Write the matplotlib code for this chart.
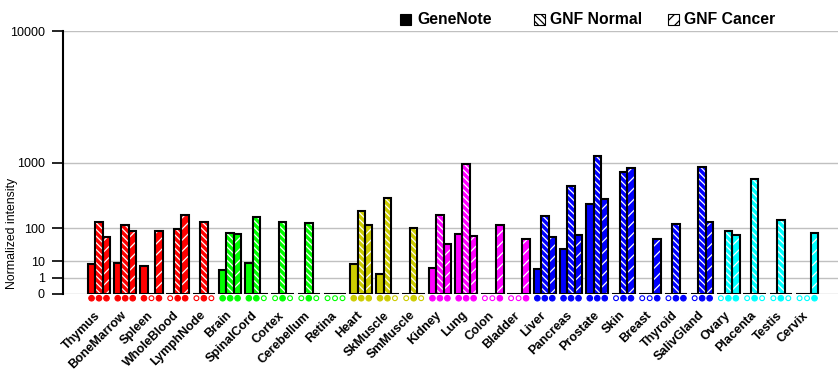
import numpy as np
import matplotlib
matplotlib.use("Agg")
import matplotlib.pyplot as plt
from matplotlib.patches import Rectangle
from matplotlib.transforms import blended_transform_factory, ScaledTranslation

plt.rcParams['font.family'] = ['Liberation Sans', 'DejaVu Sans']
plt.rcParams['hatch.linewidth'] = 0.9

# tissues and their colour groups
tissues = ['Thymus', 'BoneMarrow', 'Spleen', 'WholeBlood', 'LymphNode',
           'Brain', 'SpinalCord', 'Cortex', 'Cerebellum', 'Retina',
           'Heart', 'SkMuscle', 'SmMuscle',
           'Kidney', 'Lung', 'Colon', 'Bladder',
           'Liver', 'Pancreas', 'Prostate', 'Skin', 'Breast', 'Thyroid', 'SalivGland',
           'Ovary', 'Placenta', 'Testis', 'Cervix']
group_colors = ['#ff0000'] * 5 + ['#00ff00'] * 5 + ['#cccc00'] * 3 + \
               ['#ff00ff'] * 4 + ['#0000ff'] * 7 + ['#00ffff'] * 4

# values
genenote = [7.4, 8.3, 5.9, 0, 0, 3.7, 8.3, 0, 0, 0, 7.4, 2.0, 0,
            4.8, 75, 0, 0, 4.2, 29, 287, 0, 0, 0, 0, 0, 0, 0, 0]
gnf_normal = [137, 118, 0, 96, 137, 79, 171, 137, 131, 0, 220, 356, 103,
              184, 970, 0, 0, 176, 525, 1180, 786, 0, 125, 900, 88, 646, 150, 0]
gnf_cancer = [62, 88, 88, 185, 0, 75, 0, 0, 0, 0, 118, 0, 0,
              40, 66, 118, 56, 62, 70, 340, 875, 56, 0, 137, 70, 0, 0, 79]

# filled (1) / open (0) markers under each bar
genenote_call = [1, 1, 1, 0, 0, 1, 1, 0, 0, 0, 1, 1, 0, 1, 1, 0, 0, 1, 1, 1, 0, 0, 0, 0, 0, 0, 0, 0]
normal_call = [1, 1, 0, 1, 1, 1, 1, 1, 1, 0, 1, 1, 1, 1, 1, 0, 0, 1, 1, 1, 1, 0, 1, 1, 1, 1, 1, 0]
cancer_call = [1, 1, 1, 1, 0, 1, 0, 0, 0, 0, 1, 0, 0, 1, 1, 1, 1, 1, 1, 1, 1, 1, 1, 1, 1, 0, 0, 1]

series_names = ['GeneNote', 'GNF Normal', 'GNF Cancer']
yticks = [0, 1, 10, 100, 1000, 10000]

W, H = 840, 385
P = np.log10(2)


def fwd(v):
    return np.power(np.clip(v, 0, None), P)


def inv(v):
    return np.power(np.clip(v, 0, None), 1 / P)


def fx(px):
    return px / W


def fy(py):
    return 1 - py / H


fig = plt.figure(figsize=(W / 100, H / 100), dpi=100)
ax = fig.add_axes([fx(63), fy(294), (838 - 63) / W, (294 - 31.3) / H])
ax.set_yscale('function', functions=(fwd, inv))

x = np.arange(len(tissues))
w = 0.285
offsets = [-w, 0, w]
hatches = [None, '\\\\\\\\\\', '///']
series = [genenote, gnf_normal, gnf_cancer]
calls = [genenote_call, normal_call, cancer_call]

for vals, off, hatch in zip(series, offsets, hatches):
    ax.bar(x + off, vals, w, color=group_colors, edgecolor='white',
           hatch=hatch, linewidth=0, zorder=2)
    ax.bar(x + off, vals, w, fill=False, edgecolor='black',
           linewidth=1.5, zorder=3)

# presence markers just under the axis
mtrans = blended_transform_factory(ax.transData, ax.transAxes)
for c, off in zip(calls, offsets):
    fc = [col if f else 'white' for col, f in zip(group_colors, c)]
    ax.scatter(x + off, np.full(len(x), -0.016), s=[16 if f else 12 for f in c],
               facecolors=fc, edgecolors=group_colors, linewidths=0.8,
               transform=mtrans, clip_on=False, zorder=4)

ax.set_xlim(-1.373, 28.18)
ax.set_ylim(0, 10000)
ax.set_yticks(yticks)
ax.set_yticklabels([str(t) for t in yticks], fontsize=9)
ax.tick_params(axis='y', length=8, width=1.2, pad=5, color='black')
ax.yaxis.grid(True, color='#c0c0c0', linewidth=1.0)
ax.set_axisbelow(True)

ax.set_xticks(x)
ax.set_xticklabels(tissues, rotation=45, ha='right', fontsize=9, fontweight='bold')
ax.tick_params(axis='x', length=0, pad=11)
shift = ScaledTranslation(4 / 100, 0, fig.dpi_scale_trans)
for lbl in ax.get_xticklabels():
    lbl.set_transform(lbl.get_transform() + shift)

for side in ['top', 'right', 'bottom']:
    ax.spines[side].set_visible(False)
ax.spines['left'].set_linewidth(1.5)

fig.text(fx(12.5), fy(233), 'Normalized intensity', rotation=90,
         ha='center', va='center', fontsize=8.8)

# legend drawn by hand across the top
legend_x = [400, 534, 668]
text_x = [417, 550, 684]
for name, hatch, lx, tx in zip(series_names, hatches, legend_x, text_x):
    face = 'black' if hatch is None else 'white'
    fig.add_artist(Rectangle((fx(lx), fy(25)), 11 / W, 11 / H, transform=fig.transFigure,
                             facecolor=face, edgecolor='black', hatch=hatch, linewidth=0.8))
    fig.text(fx(tx), fy(20), name, ha='left', va='center', fontsize=11.3, fontweight='bold')

fig.savefig('out.png', dpi=100)
